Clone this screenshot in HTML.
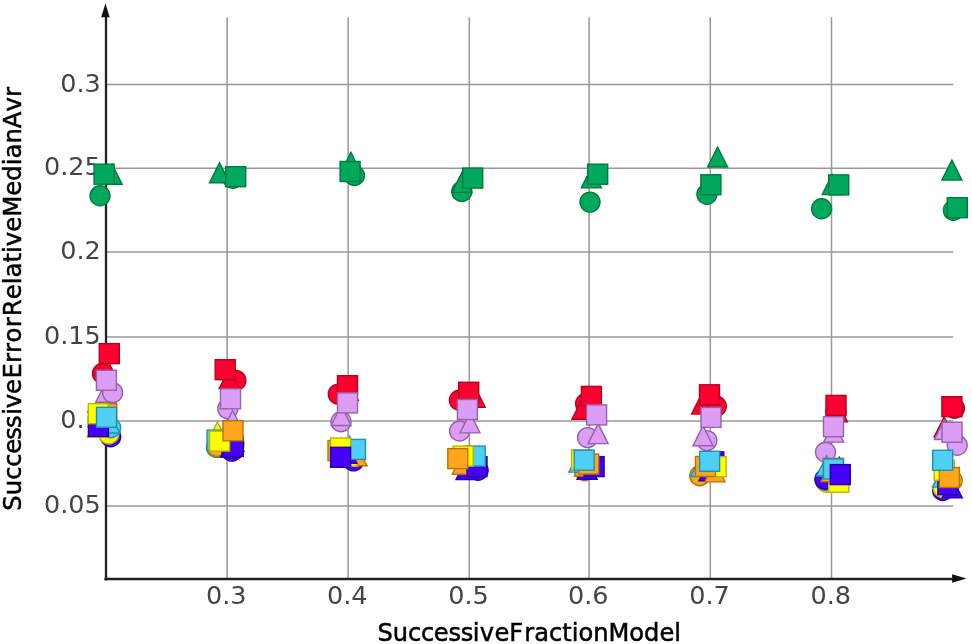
<!DOCTYPE html>
<html lang="en"><head><meta charset="utf-8"><title>SuccessiveErrorRelativeMedianAvr vs SuccessiveFractionModel</title>
<style>html,body{margin:0;padding:0;background:#fff}body{width:972px;height:644px;overflow:hidden}svg{display:block;filter:blur(0.45px)}text{font-family:"DejaVu Sans","Liberation Sans",sans-serif;font-size:25.5px;font-kerning:none}</style></head><body>
<svg width="972" height="644" viewBox="0 0 972 644">
<rect width="972" height="644" fill="#fff"/>
<g stroke="#999" stroke-width="1.5" fill="none">
<line x1="227.1" y1="17.3" x2="227.1" y2="579.0"/>
<line x1="348.1" y1="17.3" x2="348.1" y2="579.0"/>
<line x1="469.3" y1="17.3" x2="469.3" y2="579.0"/>
<line x1="589.1" y1="17.3" x2="589.1" y2="579.0"/>
<line x1="710.3" y1="17.3" x2="710.3" y2="579.0"/>
<line x1="831.5" y1="17.3" x2="831.5" y2="579.0"/>
<line x1="106.0" y1="505.9" x2="953.2" y2="505.9"/>
<line x1="106.0" y1="420.9" x2="953.2" y2="420.9"/>
<line x1="106.0" y1="337.05" x2="953.2" y2="337.05"/>
<line x1="106.0" y1="252.0" x2="953.2" y2="252.0"/>
<line x1="106.0" y1="168.2" x2="953.2" y2="168.2"/>
<line x1="106.0" y1="84.4" x2="953.2" y2="84.4"/>
</g>
<g stroke="#202020" stroke-width="2.3" fill="none">
<line x1="106.0" y1="580.6" x2="106.0" y2="15"/>
<line x1="104.4" y1="579.0" x2="954" y2="579.0"/>
</g>
<path d="M105.5 3.4L109.7 17.3L101.1 17.3Z" fill="#111"/>
<path d="M966.4 578.5L952.1 574.2L952.1 582.8Z" fill="#111"/>
<g fill="#444">
<text x="226.3" y="603.8" text-anchor="middle">0.3</text>
<text x="347.3" y="603.8" text-anchor="middle">0.4</text>
<text x="468.5" y="603.8" text-anchor="middle">0.5</text>
<text x="588.3" y="603.8" text-anchor="middle">0.6</text>
<text x="709.5" y="603.8" text-anchor="middle">0.7</text>
<text x="830.7" y="603.8" text-anchor="middle">0.8</text>
<text x="100.8" y="513.1" text-anchor="end">0.05</text>
<text x="100.8" y="428.1" text-anchor="end">0.1</text>
<text x="100.8" y="344.2" text-anchor="end">0.15</text>
<text x="100.8" y="259.2" text-anchor="end">0.2</text>
<text x="100.8" y="175.4" text-anchor="end">0.25</text>
<text x="100.8" y="91.6" text-anchor="end">0.3</text>
</g>
<text x="529.2" y="641.2" dx="0 0 -0.2 -0.2 -0.4 -0.2 -0.3 -0.5 0.3 0.3 0 1.2" text-anchor="middle" fill="#000" stroke="#000" stroke-width="0.5" style="font-size:24.14px">SuccessiveFractionModel</text>
<text transform="translate(21.4 298.9) rotate(-90)" dx="0 0 0 -0.4 -0.4 -0.9 -0.9 0.6 -0.4 -0.2 0.6 0 0 0.5 0.4 0.9 0.2" text-anchor="middle" fill="#000" stroke="#000" stroke-width="0.5" style="font-size:24.37px">SuccessiveErrorRelativeMedianAvr</text>
<g stroke-width="1.4">
<circle cx="100.0" cy="195.8" r="10.0" fill="#00a85e" stroke="#007a3e"/>
<path d="M112.1 164.2L122.1 184.2L102.1 184.2Z" fill="#00a85e" stroke="#007a3e" stroke-linejoin="miter"/>
<rect x="94.1" y="164.2" width="20.0" height="20.0" fill="#00a85e" stroke="#007a3e"/>
<circle cx="102.5" cy="373.5" r="10.0" fill="#fc0030" stroke="#b8001e"/>
<path d="M105.3 355.5L115.3 375.5L95.3 375.5Z" fill="#fc0030" stroke="#b8001e" stroke-linejoin="miter"/>
<rect x="99.3" y="343.6" width="20.0" height="20.0" fill="#fc0030" stroke="#b8001e"/>
<path d="M105.7 382.2L115.7 402.2L95.7 402.2Z" fill="#dc9ef4" stroke="#9462a8" stroke-linejoin="miter"/>
<circle cx="112.6" cy="392.6" r="10.0" fill="#dc9ef4" stroke="#9462a8"/>
<rect x="96.4" y="370.3" width="20.0" height="20.0" fill="#dc9ef4" stroke="#9462a8"/>
<circle cx="110.7" cy="436.8" r="10.0" fill="#4400f8" stroke="#2c00a8"/>
<circle cx="108.8" cy="434.0" r="10.0" fill="#ffff00" stroke="#b8b400"/>
<circle cx="110.7" cy="427.7" r="10.0" fill="#4fcff4" stroke="#2490ae"/>
<path d="M109.7 413.0L119.7 433.0L99.7 433.0Z" fill="#4fcff4" stroke="#2490ae" stroke-linejoin="miter"/>
<path d="M97.3 417.0L107.3 437.0L87.3 437.0Z" fill="#ffff00" stroke="#b8b400" stroke-linejoin="miter"/>
<rect x="88.4" y="416.5" width="20.0" height="20.0" fill="#4400f8" stroke="#2c00a8"/>
<rect x="96.7" y="403.6" width="20.0" height="20.0" fill="#ffa61a" stroke="#ba7208"/>
<rect x="88.3" y="403.7" width="20.0" height="20.0" fill="#ffff00" stroke="#b8b400"/>
<rect x="96.5" y="407.3" width="20.0" height="20.0" fill="#4fcff4" stroke="#2490ae"/>
<circle cx="233.0" cy="178.2" r="10.0" fill="#00a85e" stroke="#007a3e"/>
<path d="M219.5 162.7L229.5 182.7L209.5 182.7Z" fill="#00a85e" stroke="#007a3e" stroke-linejoin="miter"/>
<rect x="225.7" y="166.7" width="20.0" height="20.0" fill="#00a85e" stroke="#007a3e"/>
<circle cx="235.8" cy="380.4" r="10.0" fill="#fc0030" stroke="#b8001e"/>
<path d="M229.2 368.6L239.2 388.6L219.2 388.6Z" fill="#fc0030" stroke="#b8001e" stroke-linejoin="miter"/>
<rect x="215.2" y="359.7" width="20.0" height="20.0" fill="#fc0030" stroke="#b8001e"/>
<circle cx="227.8" cy="408.6" r="10.0" fill="#dc9ef4" stroke="#9462a8"/>
<path d="M232.6 410.5L242.6 430.5L222.6 430.5Z" fill="#dc9ef4" stroke="#9462a8" stroke-linejoin="miter"/>
<rect x="220.5" y="388.8" width="20.0" height="20.0" fill="#dc9ef4" stroke="#9462a8"/>
<circle cx="234.4" cy="444.0" r="10.0" fill="#ffff00" stroke="#b8b400"/>
<path d="M234.4 431.5L244.4 451.5L224.4 451.5Z" fill="#4fcff4" stroke="#2490ae" stroke-linejoin="miter"/>
<circle cx="216.5" cy="447.4" r="10.0" fill="#4fcff4" stroke="#2490ae"/>
<circle cx="216.9" cy="446.4" r="10.0" fill="#ffa61a" stroke="#ba7208"/>
<circle cx="231.9" cy="451.1" r="10.0" fill="#4400f8" stroke="#2c00a8"/>
<path d="M230.4 437.4L240.4 457.4L220.4 457.4Z" fill="#4400f8" stroke="#2c00a8" stroke-linejoin="miter"/>
<path d="M217.5 422.1L227.5 442.1L207.5 442.1Z" fill="#ffff00" stroke="#b8b400" stroke-linejoin="miter"/>
<rect x="223.3" y="436.5" width="20.0" height="20.0" fill="#4400f8" stroke="#2c00a8"/>
<rect x="207.1" y="430.1" width="20.0" height="20.0" fill="#4fcff4" stroke="#2490ae"/>
<rect x="209.6" y="431.1" width="20.0" height="20.0" fill="#ffff00" stroke="#b8b400"/>
<rect x="223.0" y="420.8" width="20.0" height="20.0" fill="#ffa61a" stroke="#ba7208"/>
<circle cx="354.4" cy="175.5" r="10.0" fill="#00a85e" stroke="#007a3e"/>
<path d="M350.9 152.2L360.9 172.2L340.9 172.2Z" fill="#00a85e" stroke="#007a3e" stroke-linejoin="miter"/>
<rect x="340.1" y="161.5" width="20.0" height="20.0" fill="#00a85e" stroke="#007a3e"/>
<circle cx="338.3" cy="394.1" r="10.0" fill="#fc0030" stroke="#b8001e"/>
<path d="M348.3 380.3L358.3 400.3L338.3 400.3Z" fill="#fc0030" stroke="#b8001e" stroke-linejoin="miter"/>
<rect x="337.5" y="375.7" width="20.0" height="20.0" fill="#fc0030" stroke="#b8001e"/>
<circle cx="341.0" cy="421.7" r="10.0" fill="#dc9ef4" stroke="#9462a8"/>
<path d="M341.1 405.5L351.1 425.5L331.1 425.5Z" fill="#dc9ef4" stroke="#9462a8" stroke-linejoin="miter"/>
<rect x="337.5" y="392.9" width="20.0" height="20.0" fill="#dc9ef4" stroke="#9462a8"/>
<circle cx="353.5" cy="460.9" r="10.0" fill="#4400f8" stroke="#2c00a8"/>
<path d="M357.0 445.7L367.0 465.7L347.0 465.7Z" fill="#ffa61a" stroke="#ba7208" stroke-linejoin="miter"/>
<path d="M347.6 446.2L357.6 466.2L337.6 466.2Z" fill="#ffff00" stroke="#b8b400" stroke-linejoin="miter"/>
<path d="M346.9 443.4L356.9 463.4L336.9 463.4Z" fill="#4400f8" stroke="#2c00a8" stroke-linejoin="miter"/>
<path d="M349.6 436.2L359.6 456.2L339.6 456.2Z" fill="#4fcff4" stroke="#2490ae" stroke-linejoin="miter"/>
<rect x="345.5" y="439.4" width="20.0" height="20.0" fill="#4fcff4" stroke="#2490ae"/>
<rect x="328.0" y="440.6" width="20.0" height="20.0" fill="#ffa61a" stroke="#ba7208"/>
<rect x="330.6" y="438.0" width="20.0" height="20.0" fill="#ffff00" stroke="#b8b400"/>
<rect x="330.6" y="447.3" width="20.0" height="20.0" fill="#4400f8" stroke="#2c00a8"/>
<circle cx="461.8" cy="191.4" r="10.0" fill="#00a85e" stroke="#007a3e"/>
<path d="M462.0 172.4L472.0 192.4L452.0 192.4Z" fill="#00a85e" stroke="#007a3e" stroke-linejoin="miter"/>
<rect x="462.7" y="168.1" width="20.0" height="20.0" fill="#00a85e" stroke="#007a3e"/>
<circle cx="459.4" cy="400.2" r="10.0" fill="#fc0030" stroke="#b8001e"/>
<path d="M475.2 387.2L485.2 407.2L465.2 407.2Z" fill="#fc0030" stroke="#b8001e" stroke-linejoin="miter"/>
<rect x="458.7" y="382.3" width="20.0" height="20.0" fill="#fc0030" stroke="#b8001e"/>
<circle cx="459.6" cy="431.0" r="10.0" fill="#dc9ef4" stroke="#9462a8"/>
<path d="M470.0 412.9L480.0 432.9L460.0 432.9Z" fill="#dc9ef4" stroke="#9462a8" stroke-linejoin="miter"/>
<rect x="457.4" y="399.5" width="20.0" height="20.0" fill="#dc9ef4" stroke="#9462a8"/>
<circle cx="478.1" cy="470.3" r="10.0" fill="#4400f8" stroke="#2c00a8"/>
<path d="M466.0 459.5L476.0 479.5L456.0 479.5Z" fill="#4400f8" stroke="#2c00a8" stroke-linejoin="miter"/>
<path d="M462.2 454.3L472.2 474.3L452.2 474.3Z" fill="#ffa61a" stroke="#ba7208" stroke-linejoin="miter"/>
<rect x="467.0" y="456.6" width="20.0" height="20.0" fill="#4400f8" stroke="#2c00a8"/>
<rect x="465.2" y="446.1" width="20.0" height="20.0" fill="#4fcff4" stroke="#2490ae"/>
<rect x="453.2" y="446.1" width="20.0" height="20.0" fill="#ffff00" stroke="#b8b400"/>
<rect x="447.8" y="448.6" width="20.0" height="20.0" fill="#ffa61a" stroke="#ba7208"/>
<circle cx="590.0" cy="202.1" r="10.0" fill="#00a85e" stroke="#007a3e"/>
<path d="M591.3 167.9L601.3 187.9L581.3 187.9Z" fill="#00a85e" stroke="#007a3e" stroke-linejoin="miter"/>
<rect x="587.7" y="164.2" width="20.0" height="20.0" fill="#00a85e" stroke="#007a3e"/>
<circle cx="585.6" cy="403.5" r="10.0" fill="#fc0030" stroke="#b8001e"/>
<path d="M581.9 399.2L591.9 419.2L571.9 419.2Z" fill="#fc0030" stroke="#b8001e" stroke-linejoin="miter"/>
<rect x="581.4" y="386.4" width="20.0" height="20.0" fill="#fc0030" stroke="#b8001e"/>
<circle cx="587.6" cy="437.6" r="10.0" fill="#dc9ef4" stroke="#9462a8"/>
<path d="M598.1 423.6L608.1 443.6L588.1 443.6Z" fill="#dc9ef4" stroke="#9462a8" stroke-linejoin="miter"/>
<rect x="586.6" y="404.9" width="20.0" height="20.0" fill="#dc9ef4" stroke="#9462a8"/>
<circle cx="584.6" cy="470.8" r="10.0" fill="#ffa61a" stroke="#ba7208"/>
<path d="M587.1 459.2L597.1 479.2L577.1 479.2Z" fill="#4400f8" stroke="#2c00a8" stroke-linejoin="miter"/>
<path d="M584.3 456.1L594.3 476.1L574.3 476.1Z" fill="#ffa61a" stroke="#ba7208" stroke-linejoin="miter"/>
<path d="M578.9 452.1L588.9 472.1L568.9 472.1Z" fill="#4fcff4" stroke="#2490ae" stroke-linejoin="miter"/>
<rect x="584.1" y="456.6" width="20.0" height="20.0" fill="#4400f8" stroke="#2c00a8"/>
<rect x="578.7" y="454.0" width="20.0" height="20.0" fill="#ffa61a" stroke="#ba7208"/>
<rect x="571.6" y="449.9" width="20.0" height="20.0" fill="#ffff00" stroke="#b8b400"/>
<rect x="574.2" y="450.2" width="20.0" height="20.0" fill="#4fcff4" stroke="#2490ae"/>
<circle cx="706.9" cy="194.3" r="10.0" fill="#00a85e" stroke="#007a3e"/>
<path d="M717.6 147.0L727.6 167.0L707.6 167.0Z" fill="#00a85e" stroke="#007a3e" stroke-linejoin="miter"/>
<rect x="700.9" y="174.7" width="20.0" height="20.0" fill="#00a85e" stroke="#007a3e"/>
<circle cx="716.3" cy="406.3" r="10.0" fill="#fc0030" stroke="#b8001e"/>
<path d="M701.6 394.1L711.6 414.1L691.6 414.1Z" fill="#fc0030" stroke="#b8001e" stroke-linejoin="miter"/>
<rect x="699.5" y="384.8" width="20.0" height="20.0" fill="#fc0030" stroke="#b8001e"/>
<circle cx="706.8" cy="440.6" r="10.0" fill="#dc9ef4" stroke="#9462a8"/>
<path d="M703.0 425.8L713.0 445.8L693.0 445.8Z" fill="#dc9ef4" stroke="#9462a8" stroke-linejoin="miter"/>
<rect x="701.0" y="407.4" width="20.0" height="20.0" fill="#dc9ef4" stroke="#9462a8"/>
<circle cx="699.8" cy="475.7" r="10.0" fill="#ffa61a" stroke="#ba7208"/>
<path d="M700.5 456.5L710.5 476.5L690.5 476.5Z" fill="#4fcff4" stroke="#2490ae" stroke-linejoin="miter"/>
<path d="M709.0 460.8L719.0 480.8L699.0 480.8Z" fill="#4400f8" stroke="#2c00a8" stroke-linejoin="miter"/>
<path d="M714.9 461.9L724.9 481.9L704.9 481.9Z" fill="#ffa61a" stroke="#ba7208" stroke-linejoin="miter"/>
<rect x="703.8" y="451.9" width="20.0" height="20.0" fill="#4400f8" stroke="#2c00a8"/>
<rect x="706.1" y="456.7" width="20.0" height="20.0" fill="#ffff00" stroke="#b8b400"/>
<rect x="695.5" y="456.5" width="20.0" height="20.0" fill="#ffa61a" stroke="#ba7208"/>
<rect x="699.6" y="451.3" width="20.0" height="20.0" fill="#4fcff4" stroke="#2490ae"/>
<circle cx="821.6" cy="208.8" r="10.0" fill="#00a85e" stroke="#007a3e"/>
<path d="M832.2 174.6L842.2 194.6L822.2 194.6Z" fill="#00a85e" stroke="#007a3e" stroke-linejoin="miter"/>
<rect x="828.7" y="174.9" width="20.0" height="20.0" fill="#00a85e" stroke="#007a3e"/>
<circle cx="836.0" cy="411.5" r="10.0" fill="#fc0030" stroke="#b8001e"/>
<path d="M837.4 401.8L847.4 421.8L827.4 421.8Z" fill="#fc0030" stroke="#b8001e" stroke-linejoin="miter"/>
<rect x="826.0" y="395.4" width="20.0" height="20.0" fill="#fc0030" stroke="#b8001e"/>
<circle cx="825.5" cy="452.3" r="10.0" fill="#dc9ef4" stroke="#9462a8"/>
<path d="M833.7 422.1L843.7 442.1L823.7 442.1Z" fill="#dc9ef4" stroke="#9462a8" stroke-linejoin="miter"/>
<rect x="823.5" y="416.7" width="20.0" height="20.0" fill="#dc9ef4" stroke="#9462a8"/>
<circle cx="826.5" cy="482.2" r="10.0" fill="#ffff00" stroke="#b8b400"/>
<circle cx="825.5" cy="480.3" r="10.0" fill="#4fcff4" stroke="#2490ae"/>
<circle cx="824.9" cy="479.2" r="10.0" fill="#4400f8" stroke="#2c00a8"/>
<path d="M826.5 456.0L836.5 476.0L816.5 476.0Z" fill="#4fcff4" stroke="#2490ae" stroke-linejoin="miter"/>
<path d="M839.3 457.2L849.3 477.2L829.3 477.2Z" fill="#4400f8" stroke="#2c00a8" stroke-linejoin="miter"/>
<rect x="828.7" y="472.2" width="20.0" height="20.0" fill="#ffff00" stroke="#b8b400"/>
<path d="M831.1 461.6L841.1 481.6L821.1 481.6Z" fill="#ffa61a" stroke="#ba7208" stroke-linejoin="miter"/>
<rect x="823.4" y="458.3" width="20.0" height="20.0" fill="#ffa61a" stroke="#ba7208"/>
<rect x="823.5" y="459.0" width="20.0" height="20.0" fill="#4fcff4" stroke="#2490ae"/>
<rect x="830.3" y="464.6" width="20.0" height="20.0" fill="#4400f8" stroke="#2c00a8"/>
<circle cx="953.4" cy="210.2" r="10.0" fill="#00a85e" stroke="#007a3e"/>
<path d="M951.9 160.1L961.9 180.1L941.9 180.1Z" fill="#00a85e" stroke="#007a3e" stroke-linejoin="miter"/>
<rect x="947.3" y="197.7" width="20.0" height="20.0" fill="#00a85e" stroke="#007a3e"/>
<circle cx="954.4" cy="408.3" r="10.0" fill="#fc0030" stroke="#b8001e"/>
<rect x="941.9" y="396.7" width="20.0" height="20.0" fill="#fc0030" stroke="#b8001e"/>
<path d="M944.1 417.0L954.1 437.0L934.1 437.0Z" fill="#fc0030" stroke="#b8001e" stroke-linejoin="miter"/>
<path d="M944.4 419.5L954.4 439.5L934.4 439.5Z" fill="#dc9ef4" stroke="#9462a8" stroke-linejoin="miter"/>
<circle cx="957.2" cy="445.3" r="10.0" fill="#dc9ef4" stroke="#9462a8"/>
<rect x="942.0" y="422.2" width="20.0" height="20.0" fill="#dc9ef4" stroke="#9462a8"/>
<circle cx="942.7" cy="490.5" r="10.0" fill="#4400f8" stroke="#2c00a8"/>
<circle cx="943.1" cy="487.7" r="10.0" fill="#ffff00" stroke="#b8b400"/>
<path d="M952.2 477.9L962.2 497.9L942.2 497.9Z" fill="#4400f8" stroke="#2c00a8" stroke-linejoin="miter"/>
<circle cx="952.2" cy="480.5" r="10.0" fill="#ffa61a" stroke="#ba7208"/>
<path d="M951.7 462.4L961.7 482.4L941.7 482.4Z" fill="#ffff00" stroke="#b8b400" stroke-linejoin="miter"/>
<path d="M942.6 467.1L952.6 487.1L932.6 487.1Z" fill="#4fcff4" stroke="#2490ae" stroke-linejoin="miter"/>
<rect x="937.9" y="474.7" width="20.0" height="20.0" fill="#4400f8" stroke="#2c00a8"/>
<rect x="934.2" y="460.3" width="20.0" height="20.0" fill="#ffff00" stroke="#b8b400"/>
<rect x="939.4" y="467.5" width="20.0" height="20.0" fill="#ffa61a" stroke="#ba7208"/>
<rect x="932.7" y="450.3" width="20.0" height="20.0" fill="#4fcff4" stroke="#2490ae"/>
</g>
</svg></body></html>
